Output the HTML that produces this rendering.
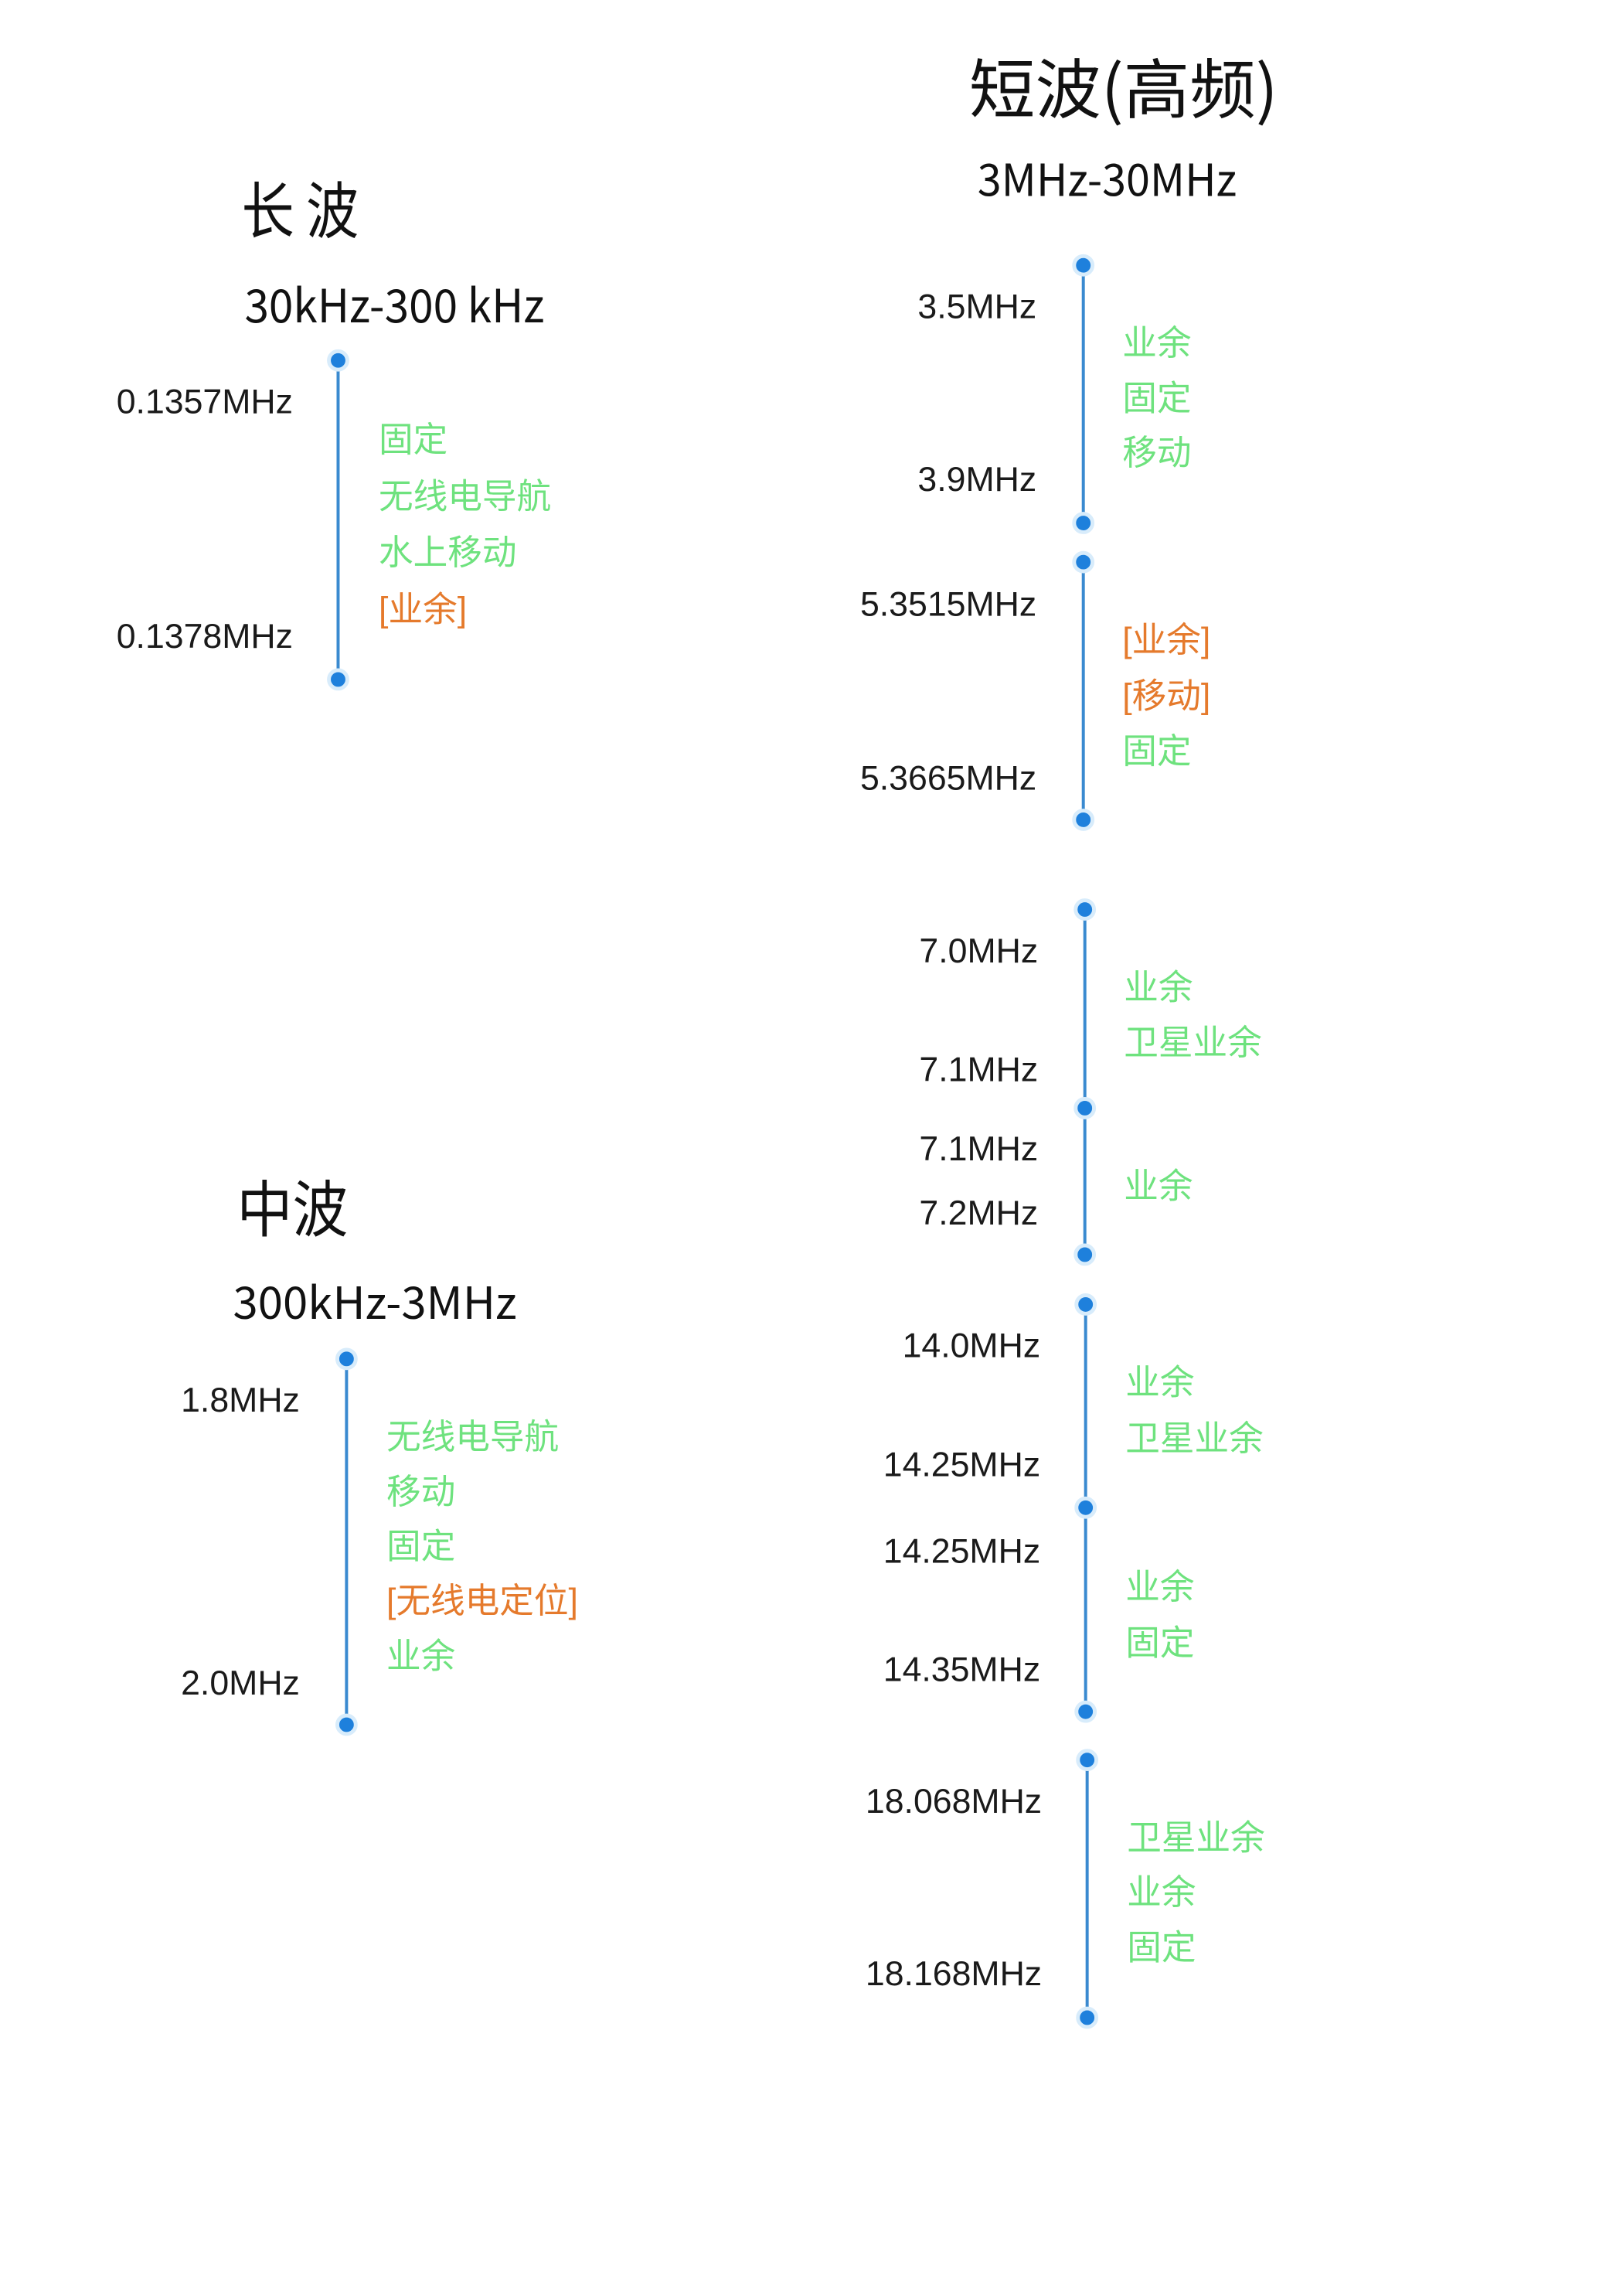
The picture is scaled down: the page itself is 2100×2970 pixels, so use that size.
<!DOCTYPE html>
<html><head><meta charset="utf-8"><style>
html,body{margin:0;padding:0;background:#fff;}
svg{display:block}
text{transform:translateY(6px)}
.t{transform:translateY(9px)}
.f{font-family:"Liberation Sans","Noto Sans CJK SC",sans-serif;font-size:45px;fill:#1a1a1a;dominant-baseline:middle;text-anchor:end}
.g{font-family:"Liberation Sans","Noto Sans CJK SC",sans-serif;font-size:45px;fill:#6ee27e;dominant-baseline:middle}
.o{font-family:"Liberation Sans","Noto Sans CJK SC",sans-serif;font-size:45px;fill:#e57a2c;dominant-baseline:middle}
.t{font-family:"WenQuanYi Zen Hei","Noto Sans CJK SC",sans-serif;fill:#111;dominant-baseline:middle}
.l{stroke:#3a8ad0;stroke-width:4}
.d{fill:#1e80dc;stroke:#d8ecfb;stroke-width:5}
</style></head><body>
<svg width="2100" height="2970" xmlns="http://www.w3.org/2000/svg">
<g transform="scale(0.992)">
<!-- titles -->
<text class="t" x="315" y="273" font-size="80" textLength="153" lengthAdjust="spacingAndGlyphs">长 波</text>
<text class="t" x="319" y="395" font-size="60" textLength="391" lengthAdjust="spacingAndGlyphs">30kHz-300 kHz</text>
<text class="t" x="1264" y="115" font-size="85" textLength="403" lengthAdjust="spacingAndGlyphs">短波(高频)</text>
<text class="t" x="1275" y="231" font-size="58" textLength="338" lengthAdjust="spacingAndGlyphs">3MHz-30MHz</text>
<text class="t" x="309" y="1575" font-size="80" textLength="145" lengthAdjust="spacingAndGlyphs">中波</text>
<text class="t" x="304" y="1695" font-size="58" textLength="370" lengthAdjust="spacingAndGlyphs">300kHz-3MHz</text>

<!-- long wave -->
<line class="l" x1="441" y1="470" x2="441" y2="886"/>
<circle class="d" cx="441" cy="470" r="12"/><circle class="d" cx="441" cy="886" r="12"/>
<text class="f" x="382" y="521">0.1357MHz</text>
<text class="f" x="382" y="827">0.1378MHz</text>
<text class="g" x="494" y="571">固定</text>
<text class="g" x="494" y="645">无线电导航</text>
<text class="g" x="494" y="718">水上移动</text>
<text class="o" x="494" y="792">[业余]</text>

<!-- medium wave -->
<line class="l" x1="452" y1="1772" x2="452" y2="2249"/>
<circle class="d" cx="452" cy="1772" r="12"/><circle class="d" cx="452" cy="2249" r="12"/>
<text class="f" x="391" y="1823">1.8MHz</text>
<text class="f" x="391" y="2192">2.0MHz</text>
<text class="g" x="504" y="1871">无线电导航</text>
<text class="g" x="504" y="1943">移动</text>
<text class="g" x="504" y="2014">固定</text>
<text class="o" x="504" y="2085">[无线电定位]</text>
<text class="g" x="504" y="2157">业余</text>

<!-- short wave seg1 -->
<line class="l" x1="1413" y1="346" x2="1413" y2="682"/>
<circle class="d" cx="1413" cy="346" r="12"/><circle class="d" cx="1413" cy="682" r="12"/>
<text class="f" x="1352" y="397">3.5MHz</text>
<text class="f" x="1352" y="622">3.9MHz</text>
<text class="g" x="1464" y="445">业余</text>
<text class="g" x="1464" y="517">固定</text>
<text class="g" x="1464" y="588">移动</text>
<!-- seg2 -->
<line class="l" x1="1413" y1="733" x2="1413" y2="1069"/>
<circle class="d" cx="1413" cy="733" r="12"/><circle class="d" cx="1413" cy="1069" r="12"/>
<text class="f" x="1352" y="785">5.3515MHz</text>
<text class="f" x="1352" y="1012">5.3665MHz</text>
<text class="o" x="1464" y="832">[业余]</text>
<text class="o" x="1464" y="905">[移动]</text>
<text class="g" x="1464" y="977">固定</text>
<!-- seg3/4 -->
<line class="l" x1="1415" y1="1186" x2="1415" y2="1636"/>
<circle class="d" cx="1415" cy="1186" r="12"/><circle class="d" cx="1415" cy="1445" r="12"/><circle class="d" cx="1415" cy="1636" r="12"/>
<text class="f" x="1354" y="1237">7.0MHz</text>
<text class="f" x="1354" y="1392">7.1MHz</text>
<text class="f" x="1354" y="1495">7.1MHz</text>
<text class="f" x="1354" y="1579">7.2MHz</text>
<text class="g" x="1466" y="1285">业余</text>
<text class="g" x="1466" y="1357">卫星业余</text>
<text class="g" x="1466" y="1544">业余</text>
<!-- seg5/6 -->
<line class="l" x1="1416" y1="1701" x2="1416" y2="2232"/>
<circle class="d" cx="1416" cy="1701" r="12"/><circle class="d" cx="1416" cy="1966" r="12"/><circle class="d" cx="1416" cy="2232" r="12"/>
<text class="f" x="1357" y="1752">14.0MHz</text>
<text class="f" x="1357" y="1907">14.25MHz</text>
<text class="f" x="1357" y="2020">14.25MHz</text>
<text class="f" x="1357" y="2174">14.35MHz</text>
<text class="g" x="1468" y="1800">业余</text>
<text class="g" x="1468" y="1873">卫星业余</text>
<text class="g" x="1468" y="2067">业余</text>
<text class="g" x="1468" y="2140">固定</text>
<!-- seg7 -->
<line class="l" x1="1418" y1="2295" x2="1418" y2="2631"/>
<circle class="d" cx="1418" cy="2295" r="12"/><circle class="d" cx="1418" cy="2631" r="12"/>
<text class="f" x="1359" y="2346">18.068MHz</text>
<text class="f" x="1359" y="2571">18.168MHz</text>
<text class="g" x="1470" y="2394">卫星业余</text>
<text class="g" x="1470" y="2465">业余</text>
<text class="g" x="1470" y="2537">固定</text>
</g>
</svg>
</body></html>
